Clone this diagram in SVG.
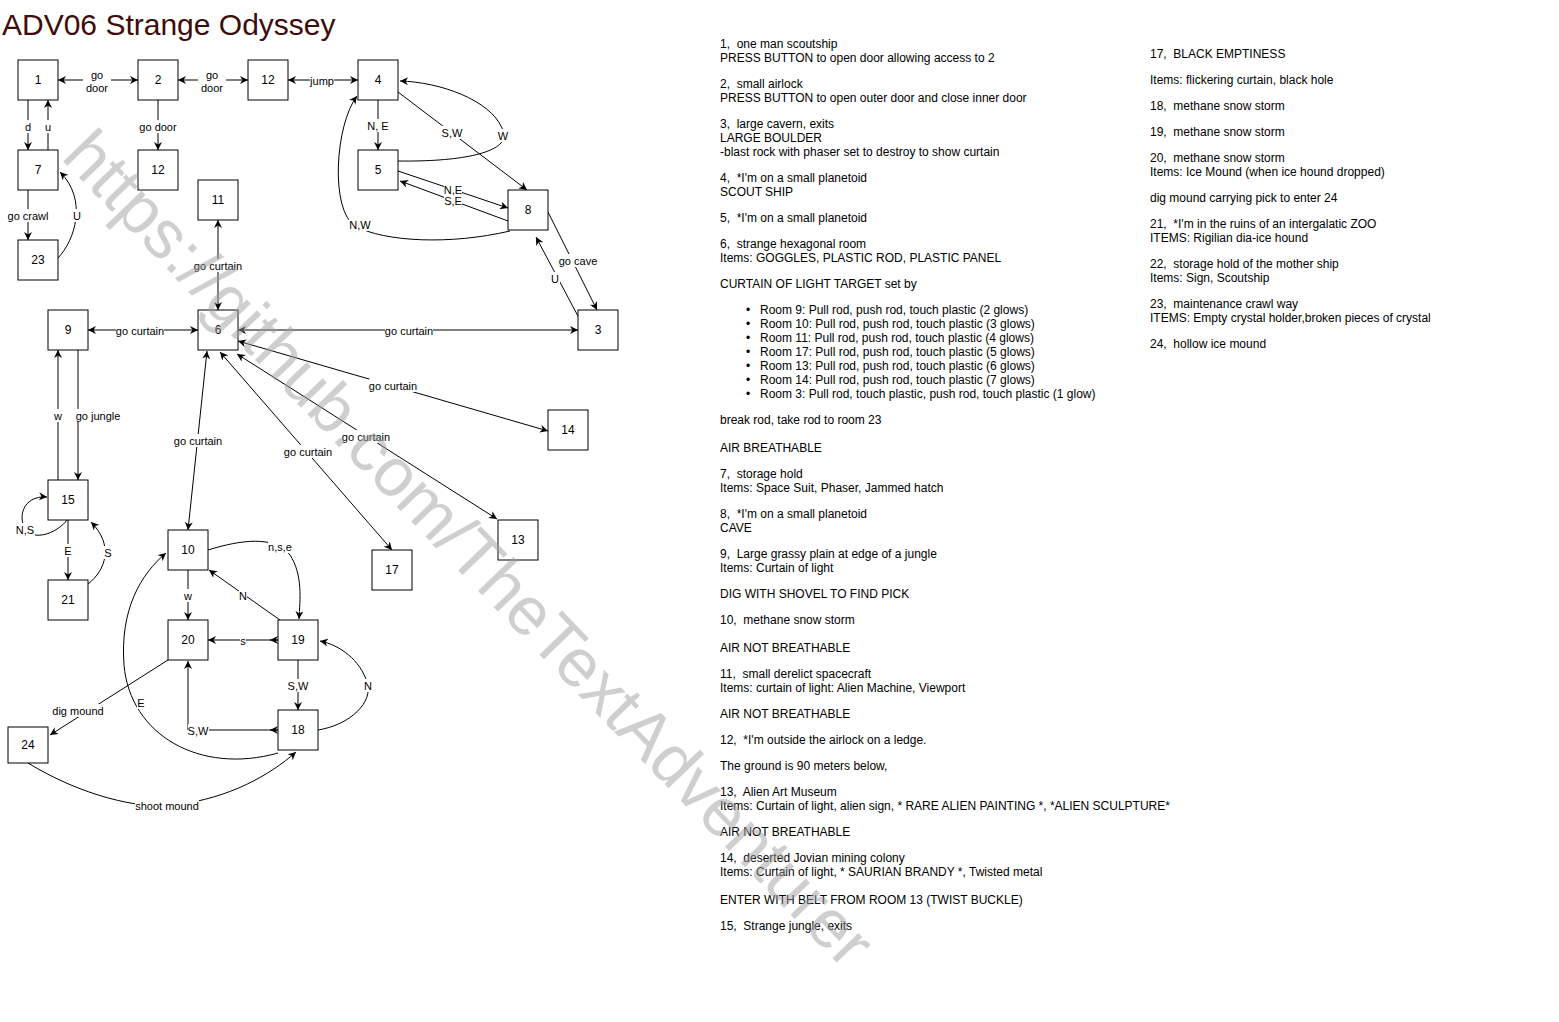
<svg xmlns="http://www.w3.org/2000/svg" width="1559" height="1022" viewBox="0 0 1559 1022">
<style>
.node{fill:#fff;stroke:#000;stroke-width:1}
.nt{font-family:"Liberation Sans",Arial,sans-serif;font-size:12px;fill:#000;text-anchor:middle}
.e{fill:none;stroke:#000;stroke-width:1}
.lb{fill:#fff}
.lt{font-family:"Liberation Sans",Arial,sans-serif;font-size:11px;fill:#000;text-anchor:middle}
.t{font-family:"Liberation Sans",Arial,sans-serif;font-size:12px;fill:#000;white-space:pre}
.title{font-family:"Liberation Sans",Arial,sans-serif;font-size:30px;fill:#3d0c0c}
.wm{font-family:"Liberation Sans",Arial,sans-serif;font-size:68px;fill:#a0a0a0;opacity:0.5}
</style>
<defs>
<marker id="a" viewBox="0 0 10 10" refX="10" refY="5" markerWidth="8" markerHeight="8" markerUnits="userSpaceOnUse" orient="auto-start-reverse">
<path d="M0,0 L10,5 L0,10 L3,5 Z" fill="#000"/>
</marker>
</defs>
<rect width="1559" height="1022" fill="#fff"/>
<text class="title" x="2" y="35">ADV06 Strange Odyssey</text>

<g id="connectors">
<path class="e" d="M58,80 L138,80" marker-start="url(#a)" marker-end="url(#a)"/>
<path class="e" d="M178,80 L248,80" marker-start="url(#a)" marker-end="url(#a)"/>
<path class="e" d="M288,80 L358,80" marker-start="url(#a)" marker-end="url(#a)"/>
<path class="e" d="M28,100 L28,150" marker-end="url(#a)"/>
<path class="e" d="M48,150 L48,100" marker-end="url(#a)"/>
<path class="e" d="M158,100 L158,150" marker-end="url(#a)"/>
<path class="e" d="M28,190 L28,240" marker-end="url(#a)"/>
<path class="e" d="M58,258 C75,240 88,200 60,172" marker-end="url(#a)"/>
<path class="e" d="M218,310 L218,220" marker-start="url(#a)" marker-end="url(#a)"/>
<path class="e" d="M88,330 L198,330" marker-start="url(#a)" marker-end="url(#a)"/>
<path class="e" d="M238,330 L578,330" marker-start="url(#a)" marker-end="url(#a)"/>
<path class="e" d="M378,100 L378,150" marker-end="url(#a)"/>
<path class="e" d="M398,92 L527,190" marker-end="url(#a)"/>
<path class="e" d="M398,161 C470,162 515,150 502,128 C490,100 440,82 400,81" marker-end="url(#a)"/>
<path class="e" d="M398,171 L508,208" marker-end="url(#a)"/>
<path class="e" d="M508,221 L400,181" marker-end="url(#a)"/>
<path class="e" d="M510,231 C450,245 385,242 355,226 C330,210 335,125 357,96" marker-end="url(#a)"/>
<path class="e" d="M548,212 L597,310" marker-end="url(#a)"/>
<path class="e" d="M579,318 L536,237" marker-end="url(#a)"/>
<path class="e" d="M238,341 L548,431" marker-start="url(#a)" marker-end="url(#a)"/>
<path class="e" d="M237,354 L497,519" marker-start="url(#a)" marker-end="url(#a)"/>
<path class="e" d="M220,352 L392,550" marker-start="url(#a)" marker-end="url(#a)"/>
<path class="e" d="M207,351 L188,530" marker-start="url(#a)" marker-end="url(#a)"/>
<path class="e" d="M78,350 L78,480" marker-end="url(#a)"/>
<path class="e" d="M58,480 L58,350" marker-end="url(#a)"/>
<path class="e" d="M67,520 C58,532 38,540 28,532 C16,520 22,495 47,497" marker-end="url(#a)"/>
<path class="e" d="M68,520 L68,580" marker-end="url(#a)"/>
<path class="e" d="M88,584 C106,570 114,545 91,522" marker-end="url(#a)"/>
<path class="e" d="M208,550 C240,540 275,535 290,555 C303,575 300,600 299,619" marker-end="url(#a)"/>
<path class="e" d="M280,620 L209,570" marker-end="url(#a)"/>
<path class="e" d="M188,570 L188,620" marker-end="url(#a)"/>
<path class="e" d="M278,640 L208,640" marker-end="url(#a)"/>
<path class="e" d="M279,640 L270,640" marker-end="url(#a)"/>
<path class="e" d="M298,660 L298,710" marker-end="url(#a)"/>
<path class="e" d="M318,730 C350,725 374,702 367,682 C360,660 340,645 320,641" marker-end="url(#a)"/>
<path class="e" d="M278,730 L188,730 L188,661" marker-end="url(#a)"/>
<path class="e" d="M279,730 L270,730" marker-end="url(#a)"/>
<path class="e" d="M278,753 C200,775 130,735 124,665 C120,610 140,575 166,553" marker-end="url(#a)"/>
<path class="e" d="M168,660 L50,735" marker-end="url(#a)"/>
<path class="e" d="M28,763 C80,795 140,810 175,805 C230,798 270,775 296,752" marker-end="url(#a)"/>
</g>

<g id="edge-labels">
<rect class="lb" x="83" y="68" width="28" height="26"/><text class="lt" x="97" y="79">go</text><text class="lt" x="97" y="92">door</text>
<rect class="lb" x="198" y="68" width="28" height="26"/><text class="lt" x="212" y="79">go</text><text class="lt" x="212" y="92">door</text>
<rect class="lb" x="310" y="74" width="24" height="13"/><text class="lt" x="322" y="85">jump</text>
<rect class="lb" x="24" y="120" width="8" height="13"/><text class="lt" x="28" y="131">d</text>
<rect class="lb" x="44" y="120" width="8" height="13"/><text class="lt" x="48" y="131">u</text>
<rect class="lb" x="139" y="120" width="38" height="13"/><text class="lt" x="158" y="131">go door</text>
<rect class="lb" x="7" y="209" width="42" height="13"/><text class="lt" x="28" y="220">go crawl</text>
<rect class="lb" x="73" y="209" width="9" height="13"/><text class="lt" x="77" y="220">U</text>
<rect class="lb" x="194" y="259" width="48" height="13"/><text class="lt" x="218" y="270">go curtain</text>
<rect class="lb" x="116" y="324" width="48" height="13"/><text class="lt" x="140" y="335">go curtain</text>
<rect class="lb" x="385" y="324" width="48" height="13"/><text class="lt" x="409" y="335">go curtain</text>
<rect class="lb" x="367" y="119" width="22" height="13"/><text class="lt" x="378" y="130">N, E</text>
<rect class="lb" x="442" y="126" width="21" height="13"/><text class="lt" x="452" y="137">S,W</text>
<rect class="lb" x="497" y="129" width="12" height="13"/><text class="lt" x="503" y="140">W</text>
<rect class="lb" x="444" y="184" width="18" height="11"/><text class="lt" x="453" y="194">N,E</text>
<rect class="lb" x="444" y="195" width="18" height="11"/><text class="lt" x="453" y="205">S,E</text>
<rect class="lb" x="349" y="218" width="22" height="13"/><text class="lt" x="360" y="229">N,W</text>
<rect class="lb" x="558" y="254" width="39" height="13"/><text class="lt" x="578" y="265">go cave</text>
<rect class="lb" x="551" y="272" width="9" height="13"/><text class="lt" x="555" y="283">U</text>
<rect class="lb" x="369" y="379" width="48" height="13"/><text class="lt" x="393" y="390">go curtain</text>
<rect class="lb" x="342" y="430" width="48" height="13"/><text class="lt" x="366" y="441">go curtain</text>
<rect class="lb" x="284" y="445" width="48" height="13"/><text class="lt" x="308" y="456">go curtain</text>
<rect class="lb" x="174" y="434" width="48" height="13"/><text class="lt" x="198" y="445">go curtain</text>
<rect class="lb" x="76" y="409" width="45" height="13"/><text class="lt" x="98" y="420">go jungle</text>
<rect class="lb" x="54" y="409" width="8" height="13"/><text class="lt" x="58" y="420">w</text>
<rect class="lb" x="16" y="523" width="19" height="13"/><text class="lt" x="25" y="534">N,S</text>
<rect class="lb" x="64" y="544" width="8" height="13"/><text class="lt" x="68" y="555">E</text>
<rect class="lb" x="104" y="546" width="8" height="13"/><text class="lt" x="108" y="557">S</text>
<rect class="lb" x="268" y="540" width="24" height="13"/><text class="lt" x="280" y="551">n,s,e</text>
<rect class="lb" x="239" y="589" width="8" height="13"/><text class="lt" x="243" y="600">N</text>
<rect class="lb" x="184" y="589" width="8" height="13"/><text class="lt" x="188" y="600">w</text>
<rect class="lb" x="240" y="634" width="6" height="13"/><text class="lt" x="243" y="645">s</text>
<rect class="lb" x="288" y="679" width="21" height="13"/><text class="lt" x="298" y="690">S,W</text>
<rect class="lb" x="364" y="679" width="8" height="13"/><text class="lt" x="368" y="690">N</text>
<rect class="lb" x="188" y="724" width="21" height="13"/><text class="lt" x="198" y="735">S,W</text>
<rect class="lb" x="137" y="696" width="8" height="13"/><text class="lt" x="141" y="707">E</text>
<rect class="lb" x="52" y="704" width="52" height="13"/><text class="lt" x="78" y="715">dig mound</text>
<rect class="lb" x="135" y="799" width="64" height="13"/><text class="lt" x="167" y="810">shoot mound</text>
</g>

<g id="n1"><rect class="node" x="18" y="60" width="40" height="40"/><text class="nt" x="38" y="84">1</text></g>
<g id="n2"><rect class="node" x="138" y="60" width="40" height="40"/><text class="nt" x="158" y="84">2</text></g>
<g id="n12a"><rect class="node" x="248" y="60" width="40" height="40"/><text class="nt" x="268" y="84">12</text></g>
<g id="n4"><rect class="node" x="358" y="60" width="40" height="40"/><text class="nt" x="378" y="84">4</text></g>
<g id="n7"><rect class="node" x="18" y="150" width="40" height="40"/><text class="nt" x="38" y="174">7</text></g>
<g id="n12b"><rect class="node" x="138" y="150" width="40" height="40"/><text class="nt" x="158" y="174">12</text></g>
<g id="n5"><rect class="node" x="358" y="150" width="40" height="40"/><text class="nt" x="378" y="174">5</text></g>
<g id="n11"><rect class="node" x="198" y="180" width="40" height="40"/><text class="nt" x="218" y="204">11</text></g>
<g id="n8"><rect class="node" x="508" y="190" width="40" height="40"/><text class="nt" x="528" y="214">8</text></g>
<g id="n23"><rect class="node" x="18" y="240" width="40" height="40"/><text class="nt" x="38" y="264">23</text></g>
<g id="n9"><rect class="node" x="48" y="310" width="40" height="40"/><text class="nt" x="68" y="334">9</text></g>
<g id="n6"><rect class="node" x="198" y="310" width="40" height="40"/><text class="nt" x="218" y="334">6</text></g>
<g id="n3"><rect class="node" x="578" y="310" width="40" height="40"/><text class="nt" x="598" y="334">3</text></g>
<g id="n14"><rect class="node" x="548" y="410" width="40" height="40"/><text class="nt" x="568" y="434">14</text></g>
<g id="n15"><rect class="node" x="48" y="480" width="40" height="40"/><text class="nt" x="68" y="504">15</text></g>
<g id="n13"><rect class="node" x="498" y="520" width="40" height="40"/><text class="nt" x="518" y="544">13</text></g>
<g id="n10"><rect class="node" x="168" y="530" width="40" height="40"/><text class="nt" x="188" y="554">10</text></g>
<g id="n17"><rect class="node" x="372" y="550" width="40" height="40"/><text class="nt" x="392" y="574">17</text></g>
<g id="n21"><rect class="node" x="48" y="580" width="40" height="40"/><text class="nt" x="68" y="604">21</text></g>
<g id="n20"><rect class="node" x="168" y="620" width="40" height="40"/><text class="nt" x="188" y="644">20</text></g>
<g id="n19"><rect class="node" x="278" y="620" width="40" height="40"/><text class="nt" x="298" y="644">19</text></g>
<g id="n18"><rect class="node" x="278" y="710" width="40" height="40"/><text class="nt" x="298" y="734">18</text></g>
<g id="n24"><rect class="node" x="8" y="727" width="40" height="36"/><text class="nt" x="28" y="749">24</text></g>

<g id="notes1" xml:space="preserve">
<text class="t" x="720" y="48">1,  one man scoutship</text>
<text class="t" x="720" y="62">PRESS BUTTON to open door allowing access to 2</text>
<text class="t" x="720" y="88">2,  small airlock</text>
<text class="t" x="720" y="102">PRESS BUTTON to open outer door and close inner door</text>
<text class="t" x="720" y="128">3,  large cavern, exits</text>
<text class="t" x="720" y="142">LARGE BOULDER</text>
<text class="t" x="720" y="156">-blast rock with phaser set to destroy to show curtain</text>
<text class="t" x="720" y="182">4,  *I'm on a small planetoid</text>
<text class="t" x="720" y="196">SCOUT SHIP</text>
<text class="t" x="720" y="222">5,  *I'm on a small planetoid</text>
<text class="t" x="720" y="248">6,  strange hexagonal room</text>
<text class="t" x="720" y="262">Items: GOGGLES, PLASTIC ROD, PLASTIC PANEL</text>
<text class="t" x="720" y="288">CURTAIN OF LIGHT TARGET set by</text>
<text class="t" x="746" y="314">•</text><text class="t" x="760" y="314">Room 9: Pull rod, push rod, touch plastic (2 glows)</text>
<text class="t" x="746" y="328">•</text><text class="t" x="760" y="328">Room 10: Pull rod, push rod, touch plastic (3 glows)</text>
<text class="t" x="746" y="342">•</text><text class="t" x="760" y="342">Room 11: Pull rod, push rod, touch plastic (4 glows)</text>
<text class="t" x="746" y="356">•</text><text class="t" x="760" y="356">Room 17: Pull rod, push rod, touch plastic (5 glows)</text>
<text class="t" x="746" y="370">•</text><text class="t" x="760" y="370">Room 13: Pull rod, push rod, touch plastic (6 glows)</text>
<text class="t" x="746" y="384">•</text><text class="t" x="760" y="384">Room 14: Pull rod, push rod, touch plastic (7 glows)</text>
<text class="t" x="746" y="398">•</text><text class="t" x="760" y="398">Room 3: Pull rod, touch plastic, push rod, touch plastic (1 glow)</text>
<text class="t" x="720" y="424">break rod, take rod to room 23</text>
<text class="t" x="720" y="452">AIR BREATHABLE</text>
<text class="t" x="720" y="478">7,  storage hold</text>
<text class="t" x="720" y="492">Items: Space Suit, Phaser, Jammed hatch</text>
<text class="t" x="720" y="518">8,  *I'm on a small planetoid</text>
<text class="t" x="720" y="532">CAVE</text>
<text class="t" x="720" y="558">9,  Large grassy plain at edge of a jungle</text>
<text class="t" x="720" y="572">Items: Curtain of light</text>
<text class="t" x="720" y="598">DIG WITH SHOVEL TO FIND PICK</text>
<text class="t" x="720" y="624">10,  methane snow storm</text>
<text class="t" x="720" y="652">AIR NOT BREATHABLE</text>
<text class="t" x="720" y="678">11,  small derelict spacecraft</text>
<text class="t" x="720" y="692">Items: curtain of light: Alien Machine, Viewport</text>
<text class="t" x="720" y="718">AIR NOT BREATHABLE</text>
<text class="t" x="720" y="744">12,  *I'm outside the airlock on a ledge.</text>
<text class="t" x="720" y="770">The ground is 90 meters below,</text>
<text class="t" x="720" y="796">13,  Alien Art Museum</text>
<text class="t" x="720" y="810">Items: Curtain of light, alien sign, * RARE ALIEN PAINTING *, *ALIEN SCULPTURE*</text>
<text class="t" x="720" y="836">AIR NOT BREATHABLE</text>
<text class="t" x="720" y="862">14,  deserted Jovian mining colony</text>
<text class="t" x="720" y="876">Items: Curtain of light, * SAURIAN BRANDY *, Twisted metal</text>
<text class="t" x="720" y="904">ENTER WITH BELT FROM ROOM 13 (TWIST BUCKLE)</text>
<text class="t" x="720" y="930">15,  Strange jungle, exits</text>
</g>

<g id="notes2" xml:space="preserve">
<text class="t" x="1150" y="58">17,  BLACK EMPTINESS</text>
<text class="t" x="1150" y="84">Items: flickering curtain, black hole</text>
<text class="t" x="1150" y="110">18,  methane snow storm</text>
<text class="t" x="1150" y="136">19,  methane snow storm</text>
<text class="t" x="1150" y="162">20,  methane snow storm</text>
<text class="t" x="1150" y="176">Items: Ice Mound (when ice hound dropped)</text>
<text class="t" x="1150" y="202">dig mound carrying pick to enter 24</text>
<text class="t" x="1150" y="228">21,  *I'm in the ruins of an intergalatic ZOO</text>
<text class="t" x="1150" y="242">ITEMS: Rigilian dia-ice hound</text>
<text class="t" x="1150" y="268">22,  storage hold of the mother ship</text>
<text class="t" x="1150" y="282">Items: Sign, Scoutship</text>
<text class="t" x="1150" y="308">23,  maintenance crawl way</text>
<text class="t" x="1150" y="322">ITEMS: Empty crystal holder,broken pieces of crystal</text>
<text class="t" x="1150" y="348">24,  hollow ice mound</text>
</g>

<text class="wm" x="0" y="0" transform="translate(60,158) rotate(46)">https://github.com/TheTextAdventurer</text>
</svg>
